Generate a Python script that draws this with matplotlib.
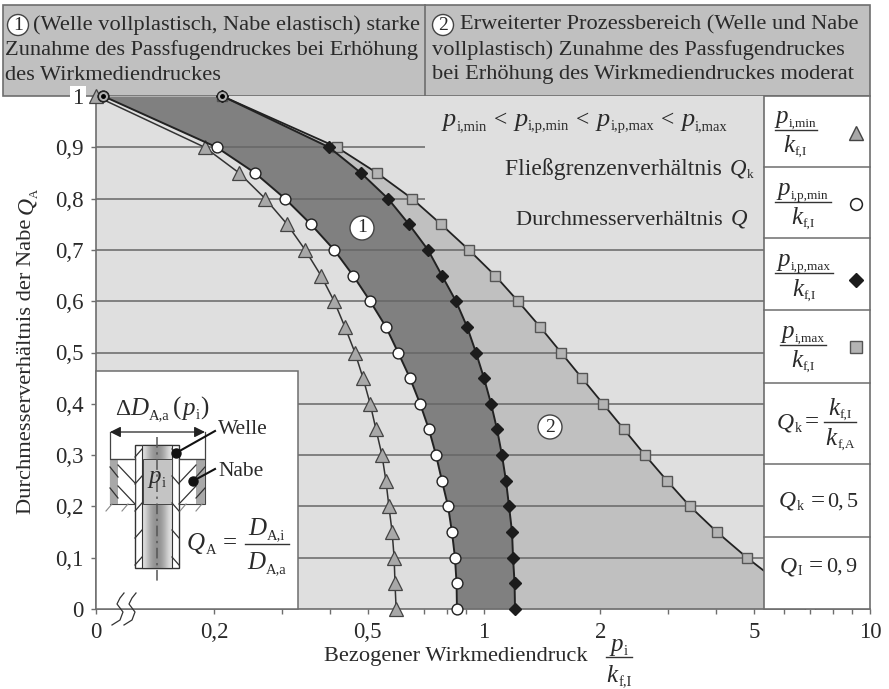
import numpy as np
import matplotlib
matplotlib.use('Agg')
import matplotlib.pyplot as plt
from matplotlib.patches import Rectangle, Circle

plt.rcParams['font.family'] = 'Liberation Serif'

# Q_A levels, 1 and then 0.9 down to 0 in steps of 0.05
q_a = [1.0, 0.9, 0.85, 0.8, 0.75, 0.7, 0.65, 0.6, 0.55, 0.5, 0.45,
       0.4, 0.35, 0.3, 0.25, 0.2, 0.15, 0.1, 0.05, 0.0]
p_min = [0.0985, 0.189, 0.232, 0.271, 0.309, 0.344, 0.378, 0.409, 0.436, 0.463, 0.486,
         0.507, 0.525, 0.544, 0.557, 0.567, 0.578, 0.585, 0.588, 0.592]
p_p_min = [0.103, 0.203, 0.255, 0.305, 0.356, 0.409, 0.458, 0.507, 0.557, 0.599, 0.643,
           0.683, 0.720, 0.751, 0.778, 0.807, 0.826, 0.841, 0.849, 0.851]
p_p_max = [0.2095, 0.397, 0.480, 0.564, 0.639, 0.716, 0.778, 0.846, 0.904, 0.953, 1.0,
           1.043, 1.081, 1.113, 1.140, 1.161, 1.182, 1.189, 1.200, 1.203]
p_max = [0.2095, 0.416, 0.528, 0.651, 0.774, 0.914, 1.068, 1.225, 1.397, 1.583, 1.794,
         2.034, 2.306, 2.613, 2.980, 3.418, 4.014, 4.801, 5.85, 7.0]

x_major = [0.0985, 0.2, 0.5, 1, 2, 5, 10]
x_major_labels = ['0', '0,2', '0,5', '1', '2', '5', '10']
x_minor = [0.3, 0.4, 0.6, 0.7, 0.8, 0.9, 3, 4, 6, 7, 8, 9]
y_ticks = [0, 0.1, 0.2, 0.3, 0.4, 0.5, 0.6, 0.7, 0.8, 0.9, 1]
y_labels = ['0', '0,1', '0,2', '0,3', '0,4', '0,5', '0,6', '0,7', '0,8', '0,9', '1']
long_lines = [0.1, 0.2, 0.3, 0.4, 0.5, 0.6, 0.7]
short_lines = [0.8, 0.9]

W, H = 889, 689
TXT = '#2a2a2a'
EDGE = '#6e6e6e'
fig = plt.figure(figsize=(W / 100, H / 100), dpi=100)
renderer = fig.canvas.get_renderer()


def pixel_axes(zorder):
    a = fig.add_axes([0, 0, 1, 1], zorder=zorder)
    a.set_xlim(0, W)
    a.set_ylim(H, 0)
    a.axis('off')
    a.patch.set_alpha(0)
    return a


def seq(a, x, y, parts, ha='center', zorder=8):
    """Write (text, size, style, drop, gap) parts one after the other on one baseline"""
    widths = []
    items = []
    for s, fs, style, drop, gap in parts:
        t = a.text(0, y + drop, s, fontsize=fs, style=style, color=TXT, ha='left', va='baseline', zorder=zorder)
        items.append(t)
        widths.append(t.get_window_extent(renderer).width + gap)
    total = sum(widths)
    pos = x - total / 2 if ha == 'center' else (x - total if ha == 'right' else x)
    for t, w in zip(items, widths):
        t.set_x(pos)
        pos += w


def sym(base, sub, fs=18, sfs=9.5, drop=4, gap=0.5, tail=0):
    return [(base, fs, 'italic', 0, gap), (sub, sfs, 'normal', drop, tail)]


def frac(a, x, y_line, half, num, den, dn=7, dd=22, xd=None):
    a.plot([x - half, x + half], [y_line, y_line], color='#333333', lw=1, zorder=8)
    seq(a, x, y_line - dn, num)
    seq(a, x if xd is None else xd, y_line + dd, den)


def circled(a, x, y, r, s, fs):
    a.add_patch(Circle((x, y), r, fc='white', ec='#444444', lw=1, zorder=6))
    a.text(x, y, s, fontsize=fs, color=TXT, ha='center', va='center', zorder=7)


# header behind the chart
bg = pixel_axes(0)
bg.add_patch(Rectangle((3, 5), 867, 91, fc='#c0c0c0', ec=EDGE, lw=1.2))
bg.plot([425, 425], [5, 96], color=EDGE, lw=1.2)
head_fs = 16.15
bg.text(33, 25, '(Welle vollplastisch, Nabe elastisch) starke', fontsize=head_fs, color=TXT, va='center')
bg.text(5, 50, 'Zunahme des Passfugendruckes bei Erhöhung', fontsize=head_fs, color=TXT, va='center')
bg.text(5, 75, 'des Wirkmediendruckes', fontsize=head_fs, color=TXT, va='center')
bg.text(460, 25, 'Erweiterter Prozessbereich (Welle und Nabe', fontsize=head_fs, color=TXT, va='center')
bg.text(432, 50, 'vollplastisch) Zunahme des Passfugendruckes', fontsize=head_fs, color=TXT, va='center')
bg.text(432, 75, 'bei Erhöhung des Wirkmediendruckes moderat', fontsize=head_fs, color=TXT, va='center')
circled(bg, 18, 25, 10.5, '1', 14)
circled(bg, 443, 25, 10.5, '2', 14)

# chart
ax = fig.add_axes([95.5 / W, 1 - 609 / H, (870 - 95.5) / W, (609 - 96) / H], zorder=1)
ax.set_facecolor('#dfdfdf')
ax.set_xscale('log')
ax.set_xlim(0.0985, 10)
ax.set_ylim(0, 1)
ax.fill_betweenx(q_a, p_p_min, p_p_max, color='#808080', lw=0, zorder=1)
ax.fill_betweenx(q_a, p_p_max, p_max, color='#c0c0c0', lw=0, zorder=1)
ax.hlines(long_lines, 0.0985, 5.31, color='#666666', lw=1.1, zorder=2)
ax.hlines(short_lines, 0.0985, 0.703, color='#666666', lw=1.1, zorder=2)

ax.plot(p_min, q_a, color='#333333', lw=1.1, marker='^', ms=9.5, mfc='#a8a8a8', mec='#444444', mew=0.9,
        clip_on=False, zorder=3)
ax.plot(p_p_min, q_a, color='#222222', lw=1.4, marker='o', ms=7.8, mfc='white', mec='#222222', mew=1,
        clip_on=False, zorder=4)
ax.plot(p_max, q_a, color='#222222', lw=1.3, marker='s', ms=7.2, mfc='#b4b4b4', mec='#555555', mew=1, zorder=3)
ax.plot(p_p_max, q_a, color='#222222', lw=1.4, marker='D', ms=5.8, mfc='#1c1c1c', mec='#1c1c1c',
        clip_on=False, zorder=4)
# top points carry a dot inside a ring
ax.plot([p_p_min[0], p_p_max[0]], [1, 1], ls='', marker='o', ms=7.5, mfc='#b0b0b0', mec='#222222', mew=1,
        clip_on=False, zorder=5)
ax.plot([p_p_min[0], p_p_max[0]], [1, 1], ls='', marker='o', ms=2.5, mfc='black', mec='black',
        clip_on=False, zorder=6)

ax.set_xticks(x_major)
ax.set_xticklabels(x_major_labels)
ax.set_xticks(x_minor, minor=True)
ax.set_xticklabels([], minor=True)
ax.set_yticks(y_ticks)
ax.set_yticklabels(y_labels)
ax.tick_params(axis='both', which='both', length=3.5, width=1, color=EDGE, labelsize=16.5, labelcolor=TXT)
ax.tick_params(axis='x', pad=6)
ax.tick_params(axis='y', pad=5)
ax.yaxis.get_ticklabels()[-1].set_bbox(dict(fc='white', ec='none', pad=1.5))
for side in ['top', 'right']:
    ax.spines[side].set_visible(False)
for side in ['left', 'bottom']:
    ax.spines[side].set_color(EDGE)
    ax.spines[side].set_linewidth(1.2)

# texts over the chart
fg = pixel_axes(2)
fg.text(27, 366, 'Durchmesserverhältnis der Nabe', fontsize=16.2, color=TXT, rotation=90, ha='center', va='center')
fg.text(27, 206, 'Q', fontsize=17, style='italic', color=TXT, rotation=90, ha='center', va='center')
fg.text(35, 194, 'A', fontsize=9, color=TXT, rotation=90, ha='center', va='center')
lt = [('<', 17, 'normal', 0, 7)]
seq(fg, 443, 126, sym('p', 'i,min', 19, 10.5, tail=7) + lt + sym('p', 'i,p,min', 19, 10.5, tail=7) + lt
    + sym('p', 'i,p,max', 19, 10.5, tail=7) + lt + sym('p', 'i,max', 19, 10.5), ha='left')
seq(fg, 753, 175, [('Fließgrenzenverhältnis ', 17, 'normal', 0, 2)] + sym('Q', 'k', 16.5, 9.5, 3), ha='right')
seq(fg, 747, 225, [('Durchmesserverhältnis ', 16.15, 'normal', 0, 2), ('Q', 16.5, 'italic', 0, 0)], ha='right')
circled(fg, 362, 228, 12, '1', 14)
circled(fg, 550, 427, 12, '2', 14)

fg.text(456, 656, 'Bezogener Wirkmediendruck', fontsize=16.1, color=TXT, ha='center', va='center')
frac(fg, 619, 657, 13, sym('p', 'i', 18, 10.5), sym('k', 'f,I', 18, 10.5), dn=6, dd=25)

# side panel
fg.add_patch(Rectangle((764, 96), 106, 513, fc='white', ec=EDGE, lw=1.2))
for y in [167, 238, 310, 383, 464, 537]:
    fg.plot([764, 870], [y, y], color=EDGE, lw=1.1)
frac(fg, 796, 130, 21, sym('p', 'i,min'), sym('k', 'f,I'), xd=795)
frac(fg, 803, 202, 28, sym('p', 'i,p,min'), sym('k', 'f,I'))
frac(fg, 804, 273, 29, sym('p', 'i,p,max'), sym('k', 'f,I'), dd=23)
frac(fg, 803, 345, 23, sym('p', 'i,max'), sym('k', 'f,I'))
fg.plot([856], [133], marker='^', ms=10, mfc='#a8a8a8', mec='#444444', mew=1)
fg.plot([856], [204], marker='o', ms=8.5, mfc='white', mec='#222222', mew=1.1)
fg.plot([856], [280], marker='D', ms=7.5, mfc='#1c1c1c', mec='#1c1c1c')
fg.plot([856], [347], marker='s', ms=8.5, mfc='#b4b4b4', mec='#555555', mew=1)
seq(fg, 777, 429, sym('Q', 'k', 17, 10, 3), ha='left')
fg.text(812, 422, '=', fontsize=18, color=TXT, ha='center', va='center')
frac(fg, 840, 422, 16, sym('k', 'f,I'), sym('k', 'f,A'), dn=7, dd=23)
seq(fg, 779, 507, sym('Q', 'k', 17, 10, 3, tail=7) + [('=', 18, 'normal', 0, 3), ('0,', 16, 'normal', 0, 2),
                                                     ('5', 16, 'normal', 0, 0)], ha='left')
seq(fg, 780, 572, sym('Q', 'I', 17, 10, 3, tail=7) + [('=', 18, 'normal', 0, 3), ('0,', 16, 'normal', 0, 2),
                                                      ('9', 16, 'normal', 0, 0)], ha='left')

# inset with the sketch of shaft and hub
fg.add_patch(Rectangle((96, 371), 202, 238, fc='white', ec=EDGE, lw=1.1, zorder=1))
shade = np.array([[0.88, 0.72, 0.6, 0.55, 0.6, 0.72, 0.88]])
fg.add_patch(Rectangle((135, 445), 44, 123, fc='white', ec='#333333', lw=1, zorder=2))
fg.imshow(shade, extent=(142, 172, 568, 445), aspect='auto', cmap='gray', vmin=0, vmax=1,
          interpolation='bicubic', zorder=3)
fg.add_patch(Rectangle((142, 445), 30, 123, fc='none', ec='#333333', lw=0.8, zorder=4))
fg.add_patch(Rectangle((143, 459), 29, 45, fc='#c4c4c4', ec='#444444', lw=0.7, zorder=4))
# hub with its grey outer strips
fg.add_patch(Rectangle((110, 459), 25, 45, fc='white', ec='#444444', lw=0.8, zorder=2))
fg.add_patch(Rectangle((179, 459), 26, 45, fc='white', ec='#444444', lw=0.8, zorder=2))
fg.add_patch(Rectangle((110, 459), 8, 45, fc='#a8a8a8', ec='none', zorder=3))
fg.add_patch(Rectangle((196, 459), 9, 45, fc='#a8a8a8', ec='none', zorder=3))
hatch = dict(color='#333333', lw=0.9, zorder=5)
for y in [449, 476, 503, 530, 557]:
    fg.plot([135, 142], [y + 8, y], **hatch)
    fg.plot([172, 179], [y, y + 8], **hatch)
for y in [459, 480]:
    fg.plot([118, 135], [y + 6, y + 24], **hatch)
    fg.plot([179, 196], [y + 24, y + 6], **hatch)
    fg.plot([110, 118], [y + 8, y + 18], **hatch)
    fg.plot([196, 205], [y + 18, y + 8], **hatch)
fg.plot([110, 110, 135], [432, 459, 459], color='#444444', lw=0.9, zorder=5)
fg.plot([205, 205, 179], [432, 459, 459], color='#444444', lw=0.9, zorder=5)
fg.plot([157, 157], [437, 584], color='#555555', lw=1.1, ls=(0, (7, 3, 1.5, 3)), zorder=5)
for x in [112, 128, 186, 202]:
    fg.plot([x - 6, x], [511, 504], color='#888888', lw=0.8, zorder=5)
fg.annotate('', xy=(110, 432), xytext=(205, 432), zorder=5,
            arrowprops=dict(arrowstyle='<|-|>', color='#222222', lw=0.9, mutation_scale=16, shrinkA=0, shrinkB=0))
fg.plot([176, 215], [453, 431], color='#111111', lw=1.5, zorder=6)
fg.plot([193, 215], [481, 469], color='#111111', lw=1.5, zorder=6)
fg.plot([176, 193], [453, 481], ls='', marker='o', ms=6.5, color='#111111', zorder=6)
fg.text(218, 429, 'Welle', fontsize=15.5, color=TXT, va='center', zorder=6)
fg.text(218, 471, 'Nabe', fontsize=15.5, color=TXT, va='center', zorder=6)
seq(fg, 115, 415, [('Δ', 17, 'normal', 0, 0), ('D', 18, 'italic', 0, 0.5), ('A,a', 10.5, 'normal', 4, 4),
                   ('(', 18, 'normal', 0, 1), ('p', 18, 'italic', 0, 0.5), ('i', 10.5, 'normal', 4, 0.5),
                   (')', 18, 'normal', 0, 0)], ha='left')
seq(fg, 157, 483, sym('p', 'i', 18, 10.5))
seq(fg, 187, 550, sym('Q', 'A', 18, 10.5), ha='left')
fg.text(230, 543, '=', fontsize=18, color=TXT, ha='center', va='center', zorder=8)
frac(fg, 267, 544, 22, sym('D', 'A,i', 18, 10.5), sym('D', 'A,a', 18, 10.5), dn=9, dd=25)
for dx in [0, 12]:
    fg.plot([112 + dx, 120 + dx, 123 + dx, 117 + dx, 120 + dx, 124 + dx],
            [625, 620, 612, 604, 598, 593], color='#333333', lw=0.9, zorder=6)
fg.set_xlim(0, W)
fg.set_ylim(H, 0)

fig.savefig('out.png', dpi=100)
